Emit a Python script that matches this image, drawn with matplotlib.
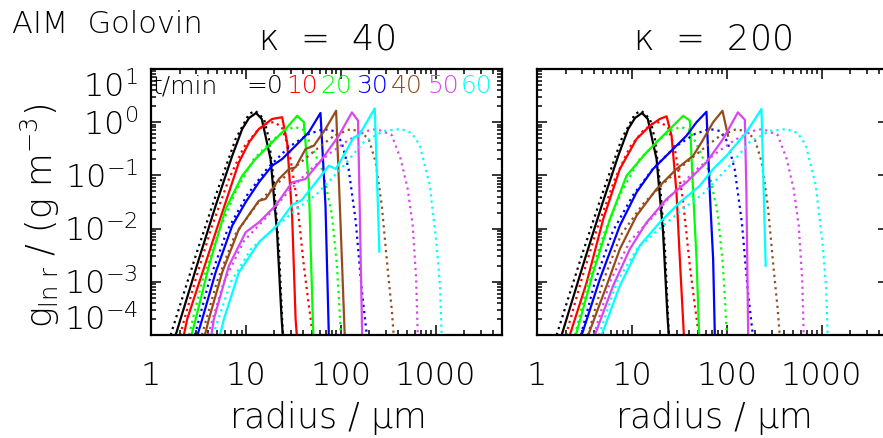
import matplotlib.pyplot as plt
from matplotlib import font_manager
from matplotlib.ticker import LogLocator, NullFormatter
from matplotlib.transforms import blended_transform_factory, offset_copy

# time after start for each curve, minutes
times = [0, 10, 20, 30, 40, 50, 60]
colors = ['black', '#ff0000', '#00ff00', '#0000ff', '#964b1e', '#d946ef', '#00ffff']

# analytic Golovin solution (dotted), radius in um and g_ln r in g m^-3
r_exact = [
    [1.61, 1.82, 2.96, 4.80, 7.79, 10.8, 12.6, 15.5, 17.5, 19.7, 22.3, 24.1, 24.5],
    [2.02, 2.90, 4.28, 6.62, 9.53, 13.1, 16.2, 19.7, 23.9, 28.4, 34.4, 40.8, 46.0, 50.7],
    [2.51, 3.44, 5.20, 7.85, 12.1, 19.7, 26.4, 32.8, 40.8, 49.5, 64.6, 80.4, 90.8, 96.4, 100],
    [2.90, 4.08, 6.31, 10.3, 16.6, 28.4, 46.0, 66.2, 84.4, 102, 121, 144, 166, 188],
    [3.44, 4.95, 7.66, 13.1, 21.2, 36.1, 55.9, 84.4, 127, 162, 197, 233, 270, 312, 344, 361],
    [3.98, 5.87, 9.53, 16.6, 28.4, 46.0, 74.8, 121, 188, 239, 344, 428, 507, 572, 623, 647],
    [4.50, 6.95, 11.3, 21.2, 34.4, 55.9, 100, 175, 284, 428, 559, 679, 865, 1025, 1116, 1156],
]
g_exact = [
    [1e-4, 2.0e-4, 3.1e-3, 0.0415, 0.483, 1.43, 1.64, 1.15, 0.483, 0.0752, 4.14e-3, 2.0e-4, 1e-4],
    [1e-4, 1.0e-3, 9.8e-3, 0.0855, 0.342, 0.684, 0.925, 1.01, 0.813, 0.313, 0.036, 2.0e-3, 3.67e-4, 1e-4],
    [1e-4, 1.0e-3, 9.0e-3, 0.0509, 0.203, 0.483, 0.713, 0.813, 0.713, 0.342, 0.121, 0.0188, 2.16e-3,
     3.67e-4, 1e-4],
    [1e-4, 1.0e-3, 9.0e-3, 0.0428, 0.132, 0.342, 0.600, 0.745, 0.684, 0.425, 0.132, 0.0133, 7.3e-4, 1e-4],
    [1e-4, 1.0e-3, 7.6e-3, 0.029, 0.0689, 0.164, 0.313, 0.551, 0.745, 0.655, 0.483, 0.179, 0.0278,
     1.74e-3, 3.08e-4, 1e-4],
    [1e-4, 1.0e-3, 5.85e-3, 0.0165, 0.0509, 0.121, 0.252, 0.463, 0.684, 0.745, 0.574, 0.203, 0.0555,
     0.0117, 1.13e-3, 1e-4],
    [1e-4, 1.0e-3, 4.14e-3, 0.0112, 0.0233, 0.0447, 0.132, 0.425, 0.684, 0.745, 0.627, 0.373, 0.0661,
     4.92e-3, 7.3e-4, 1e-4],
]

# initial distribution, identical for both kappa
r_init = [1.82, 2.70, 3.20, 4.80, 7.18, 9.14, 10.8, 12.8, 14.7, 18.2, 21.3, 23.8, 24.5]
g_init = [1e-4, 1.0e-3, 2.69e-3, 0.0269, 0.234, 0.745, 1.20, 1.49, 1.15, 0.203, 8.6e-3, 2.0e-4, 1e-4]

# AIM model, kappa = 40 (solid)
r_k40 = [
    r_init,
    [2.22, 2.41, 4.80, 8.44, 10.8, 13.7, 18.9, 24.1, 27.2, 30.7, 33.4, 34.4],
    [2.67, 2.96, 4.08, 6.11, 9.14, 12.6, 18.9, 26.2, 34.7, 40.8, 46.0, 50.7, 51.4],
    [3.09, 3.47, 4.80, 7.18, 9.93, 13.7, 18.9, 24.1, 33.4, 46.0, 61.1, 69.0, 74.8],
    [3.70, 4.08, 5.63, 8.44, 13.7, 16.1, 22.3, 28.4, 33.4, 42.5, 52.0, 69.0, 89.3, 99.3, 110],
    [4.33, 4.60, 6.62, 9.93, 13.7, 20.5, 30.7, 42.5, 63.6, 95.3, 131, 152, 168],
    [5.33, 5.87, 8.44, 13.7, 21.3, 30.7, 38.8, 49.9, 74.8, 88.6, 112, 137, 155, 228, 255],
]
g_k40 = [
    g_init,
    [1e-4, 2.0e-4, 8.5e-3, 0.176, 0.419, 0.745, 1.15, 1.24, 0.419, 0.0175, 2.0e-4, 1e-4],
    [1e-4, 2.0e-4, 2.0e-3, 0.0233, 0.0986, 0.203, 0.419, 0.745, 1.32, 1.0, 0.0741, 2.0e-4, 1e-4],
    [1e-4, 2.0e-4, 1.51e-3, 0.0114, 0.0312, 0.0741, 0.152, 0.203, 0.361, 0.646, 1.49, 0.0269, 1e-4],
    [1e-4, 2.0e-4, 1.51e-3, 9.8e-3, 0.0334, 0.036, 0.0855, 0.132, 0.142, 0.313, 0.361, 0.745, 1.64,
     0.0133, 1e-4],
    [1e-4, 2.0e-4, 2.0e-3, 8.5e-3, 0.0131, 0.0269, 0.0741, 0.0855, 0.203, 0.557, 1.53, 1.07, 1e-4],
    [1e-4, 2.0e-4, 1.51e-3, 5.5e-3, 0.0114, 0.0278, 0.0345, 0.0605, 0.152, 0.132, 0.272, 0.52, 0.557,
     1.82, 3.68e-3],
]

# AIM model, kappa = 200 (solid)
r_k200 = [
    r_init,
    [2.22, 3.34, 4.99, 7.47, 11.2, 15.5, 19.7, 23.2, 26.2, 29.5, 32.0, 35.3],
    [2.57, 3.91, 5.87, 8.79, 14.3, 21.3, 34.7, 40.8, 44.2, 48.0, 51.1],
    [2.96, 4.60, 7.47, 11.2, 16.7, 25.1, 37.6, 48.0, 61.1, 66.2, 71.8, 74.8],
    [3.47, 5.42, 7.47, 11.2, 18.2, 29.5, 44.2, 54.2, 71.8, 90.1, 103],
    [4.08, 6.35, 9.53, 14.3, 23.2, 37.6, 61.1, 91.4, 131, 155, 161, 168],
    [4.80, 7.47, 12.1, 19.7, 32.0, 52.0, 71.8, 99.3, 161, 232, 257],
]
g_k200 = [
    g_init,
    [1e-4, 9.8e-4, 0.0151, 0.132, 0.483, 0.859, 1.15, 1.29, 0.557, 0.0481, 2.69e-3, 1e-4],
    [1e-4, 1.51e-3, 0.0151, 0.0986, 0.272, 0.557, 1.32, 1.07, 0.0481, 2.69e-3, 1e-4],
    [1e-4, 1.13e-3, 0.0114, 0.0481, 0.132, 0.272, 0.557, 1.0, 1.57, 0.0481, 2.69e-3, 1e-4],
    [1e-4, 8.5e-4, 4.14e-3, 0.0175, 0.0555, 0.132, 0.234, 0.419, 1.0, 1.64, 0.557],
    [1e-4, 8.5e-4, 4.14e-3, 0.0131, 0.036, 0.0741, 0.176, 0.483, 1.53, 1.11, 0.0481, 1e-4],
    [1e-4, 8.5e-4, 4.78e-3, 0.0131, 0.0312, 0.064, 0.132, 0.234, 0.646, 1.77, 2.0e-3],
]

xtick_vals = [1, 10, 100, 1000]
xtick_text = ['1', '10', '100', '1000']
ytick_vals = [1e-4, 1e-3, 1e-2, 1e-1, 1, 10]
ytick_text = [r'$10^{-4}$', r'$10^{-3}$', r'$10^{-2}$', r'$10^{-1}$', r'$10^{0}$', r'$10^{1}$']

# thin lettering: take a light face when one is installed
family, weight = 'DejaVu Sans', 400
for name in ['DejaVu Sans', 'Open Sans', 'Roboto', 'Lato', 'Noto Sans', 'Inter']:
    found = sorted(f.weight for f in font_manager.fontManager.ttflist
                   if f.name == name and f.style == 'normal'
                   and isinstance(f.weight, int) and 200 <= f.weight <= 300)
    if found:
        family, weight = name, found[-1]
        break

plt.rcParams['font.family'] = family
plt.rcParams['font.weight'] = weight
plt.rcParams['mathtext.fontset'] = 'custom'
# no light italic face, so math letters stay upright and thin
plt.rcParams['mathtext.rm'] = f'{family}:weight={weight}'
plt.rcParams['mathtext.sf'] = f'{family}:weight={weight}'
plt.rcParams['mathtext.it'] = f'{family}:weight={weight}'

W, H = 883, 439
fig = plt.figure(figsize=(W / 100, H / 100), dpi=100)


def fx(x):
    return x / W


def fy(y):
    return 1 - y / H


panels = [(151, r_k40, g_k40, '40'), (537, r_k200, g_k200, '200')]
axes = []
for left, r_mod, g_mod, kappa in panels:
    ax = fig.add_axes([fx(left), fy(336), 351 / W, 266 / H])
    ax.set_xscale('log')
    ax.set_yscale('log')
    for i in range(len(times)):
        ax.plot(r_exact[i], g_exact[i], color=colors[i], lw=1.6, ls=(0, (1, 1.8)))
        ax.plot(r_mod[i], g_mod[i], color=colors[i], lw=1.6)
    ax.set_xlim(1, 5000)
    ax.set_ylim(1e-4, 10)

    ax.set_xticks(xtick_vals, xtick_text)
    ax.set_yticks(ytick_vals)
    ax.xaxis.set_minor_locator(LogLocator(subs=range(2, 10), numticks=20))
    ax.yaxis.set_minor_locator(LogLocator(subs=range(2, 10), numticks=20))
    ax.xaxis.set_minor_formatter(NullFormatter())
    ax.yaxis.set_minor_formatter(NullFormatter())
    ax.tick_params(which='both', direction='in', top=True, right=True, width=1.1,
                   labelleft=False, labelsize=23)
    ax.tick_params(which='major', length=7)
    ax.tick_params(which='minor', length=3.5)
    ax.tick_params(axis='x', pad=18)
    for s in ax.spines.values():
        s.set_linewidth(1.6)

    centre = left + 175.5
    fig.text(fx(centre), fy(50), r'$\kappa$  =  ' + kappa, ha='center', va='baseline', fontsize=25)
    fig.text(fx(centre), fy(428), r'radius / $\mu$m', ha='center', va='baseline', fontsize=25)
    axes.append(ax)

# y tick labels on the left panel, end labels kept inside the frame
ax = axes[0]
trans = blended_transform_factory(ax.transAxes, ax.transData)
for v, s in zip(ytick_vals, ytick_text):
    if v == ytick_vals[-1]:
        ax.text(-0.037, v, s, transform=trans, ha='right', va='top', fontsize=23)
    elif v == ytick_vals[0]:
        ax.text(-0.037, v, s, transform=trans, ha='right', va='bottom', fontsize=23)
    else:
        ax.text(-0.037, v, s, transform=offset_copy(trans, fig=fig, y=-8.3, units='points'),
                ha='right', va='baseline', fontsize=23)

fig.text(fx(40), fy(216), r'$g_{\rm ln\ r}$ / (g m$^{-3}$)', rotation=90,
         ha='center', va='center', fontsize=25)
fig.text(fx(12), fy(33), 'AIM  Golovin', ha='left', va='baseline', fontsize=22)

# time key along the top of the left panel
fig.text(fx(153), fy(93), 't/min', ha='left', va='baseline', fontsize=18)
fig.text(fx(246), fy(93), '=' + str(times[0]), ha='left', va='baseline', fontsize=18)
key_x = [286, 320, 356, 391, 428, 461]
for x, t, c in zip(key_x, times[1:], colors[1:]):
    fig.text(fx(x), fy(93), str(t), color=c, ha='left', va='baseline', fontsize=18)

fig.savefig('out.png', dpi=100)
